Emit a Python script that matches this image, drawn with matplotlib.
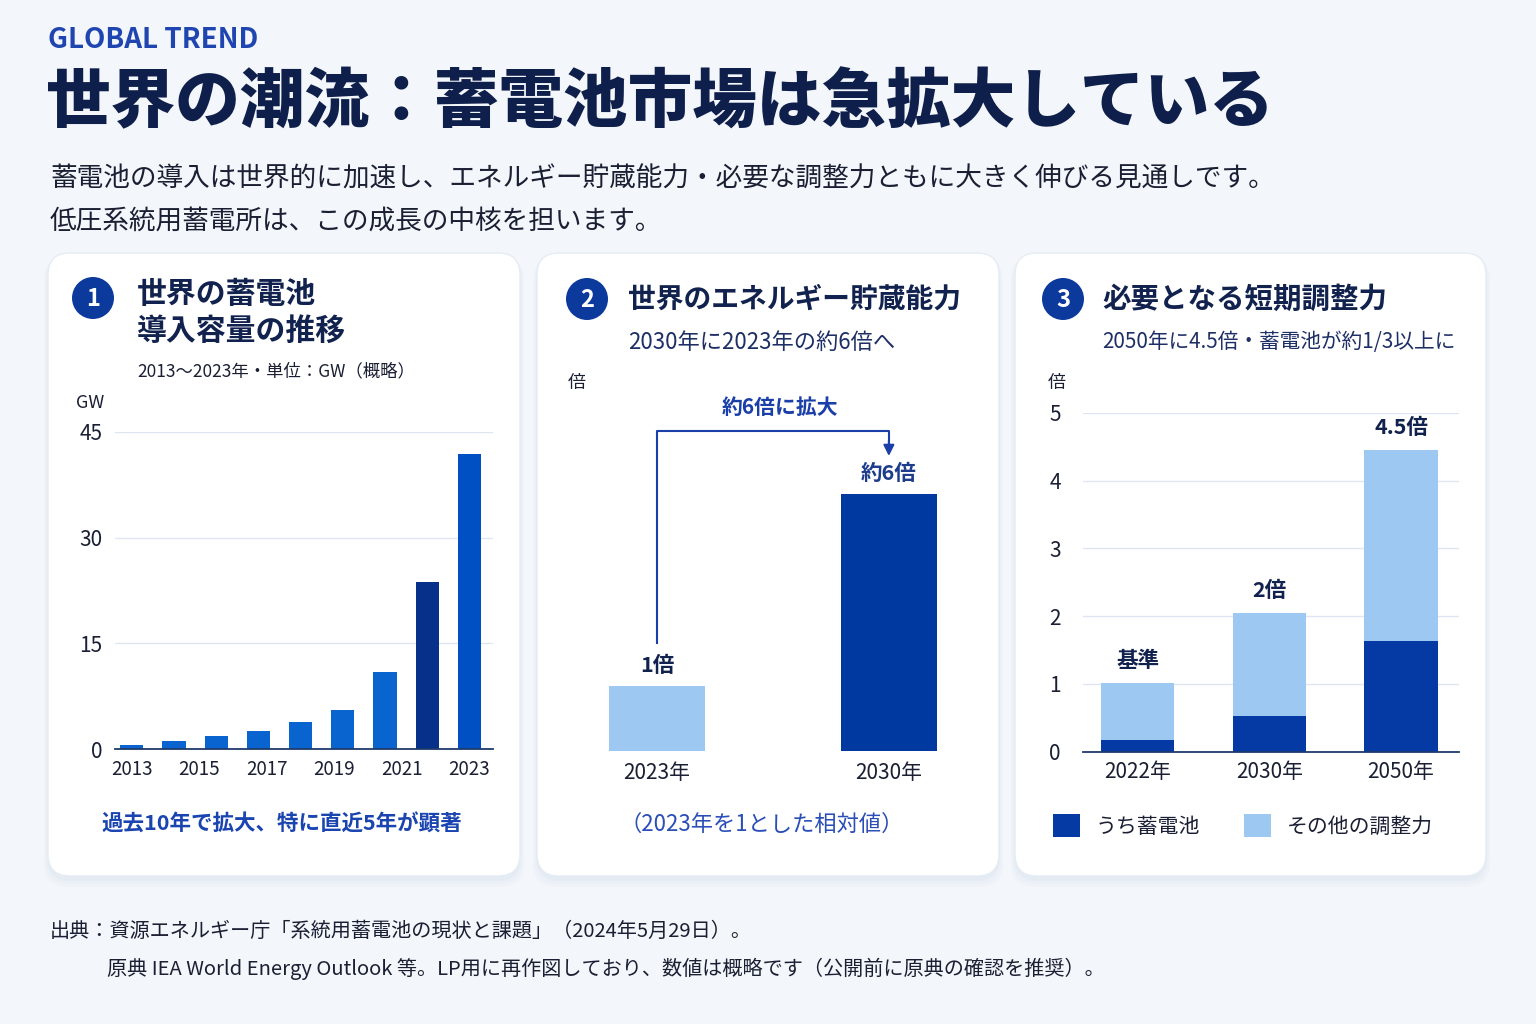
import matplotlib
matplotlib.use('Agg')
import matplotlib.pyplot as plt
import numpy as np
from matplotlib.patches import FancyBboxPatch, Circle, Patch

JP = ['Noto Sans CJK JP', 'DejaVu Sans']
plt.rcParams['font.family'] = JP

# ---------------- data ----------------
p1_year_ticks = ['2013', '2015', '2017', '2019', '2021', '2023']
p1_values = [0.5, 1.1, 1.8, 2.6, 3.9, 5.6, 10.9, 23.7, 41.9]
p1_highlight = 7
p1_yticks = [0, 15, 30, 45]

p2_cats = ['2023年', '2030年']
p2_values = [1, 6]
p2_labels = ['1倍', '約6倍']

p3_cats = ['2022年', '2030年', '2050年']
p3_battery = [0.17, 0.53, 1.64]
p3_other = [0.85, 1.52, 2.81]
p3_labels = ['基準', '2倍', '4.5倍']
p3_yticks = [0, 1, 2, 3, 4, 5]
p3_legend = ['うち蓄電池', 'その他の調整力']

# ---------------- style ----------------
W, H = 1536, 1024
BG = '#F3F6FA'
NAVY = '#0F1F4B'
TEXT = '#1A1F33'
BLUE = '#1A44B0'
DARK = '#0539A3'
LIGHT = '#9DC8F1'
GRID = '#DDE6F2'
AXIS = '#1F3A6B'

fig = plt.figure(figsize=(W / 100, H / 100), dpi=100)
fig.patch.set_facecolor(BG)
bg = fig.add_axes([0, 0, 1, 1])
bg.set_xlim(0, W)
bg.set_ylim(H, 0)
bg.axis('off')
bg.set_zorder(0)


def px_axes(l, t, r, b):
    ax = fig.add_axes([l / W, 1 - b / H, (r - l) / W, (b - t) / H])
    ax.set_zorder(2)
    ax.patch.set_alpha(0)
    return ax


# header
bg.text(48, 40, 'GLOBAL TREND', fontsize=20, fontweight='bold', color='#1F45B0',
        ha='left', va='center')
bg.text(46, 103, '世界の潮流：蓄電池市場は急拡大している', fontsize=46.5, fontweight='heavy',
        color=NAVY, ha='left', va='center')
bg.text(50, 179, '蓄電池の導入は世界的に加速し、エネルギー貯蔵能力・必要な調整力ともに大きく伸びる見通しです。',
        fontsize=19.2, color=TEXT, ha='left', va='center')
bg.text(50, 221, '低圧系統用蓄電所は、この成長の中核を担います。',
        fontsize=19.2, color=TEXT, ha='left', va='center')

# cards
cards = [(48, 520), (537, 999), (1015, 1486)]
for x0, x1 in cards:
    for k, a in [(8, 0.10), (5, 0.15), (2, 0.25)]:
        bg.add_patch(FancyBboxPatch((x0 - k / 2, 253 + 3), x1 - x0 + k, 623 + k,
                                    boxstyle='round,pad=0,rounding_size=24',
                                    fc='#D5E0EE', ec='none', alpha=a, zorder=1))
    bg.add_patch(FancyBboxPatch((x0, 253), x1 - x0, 623,
                                boxstyle='round,pad=0,rounding_size=22',
                                fc='white', ec='#E6ECF4', lw=1, zorder=2))

# badges
for (cx, cy), n in zip([(93, 298), (587, 299), (1063, 299)], ['1', '2', '3']):
    bg.add_patch(Circle((cx, cy), 21, fc='#0B3A9C', ec='none', zorder=3))
    bg.text(cx, cy + 1, n, fontsize=17, fontweight='bold', color='white',
            ha='center', va='center', zorder=4)

# panel titles
bg.text(137, 294, '世界の蓄電池', fontsize=21.5, fontweight='bold', color='#12224F', va='center', zorder=4)
bg.text(137, 331, '導入容量の推移', fontsize=21.5, fontweight='bold', color='#12224F', va='center', zorder=4)
bg.text(137, 371, '2013〜2023年・単位：GW（概略）', fontsize=12.5, color=TEXT, va='center', zorder=4)

bg.text(628, 300, '世界のエネルギー貯蔵能力', fontsize=20, fontweight='bold', color='#12224F', va='center', zorder=4)
bg.text(628, 342, '2030年に2023年の約6倍へ', fontsize=16, color='#1E2F66', va='center', zorder=4)

bg.text(1102, 300, '必要となる短期調整力', fontsize=20.5, fontweight='bold', color='#12224F', va='center', zorder=4)
bg.text(1102, 342, '2050年に4.5倍・蓄電池が約1/3以上に', fontsize=14.9, color='#1E2F66', va='center', zorder=4)

# ---------------- panel 1 ----------------
ax1 = px_axes(115, 432, 493, 749)
x1 = np.arange(len(p1_values))
cols1 = ['#0A64CF'] * len(p1_values)
cols1[p1_highlight] = '#06308A'
cols1[-1] = '#0050C4'
ax1.bar(x1, p1_values, width=0.55, color=cols1, zorder=3)
ax1.set_xlim(-0.4, len(p1_values) - 1 + 0.56)
ax1.set_ylim(0, 45)
ax1.set_yticks(p1_yticks)
ax1.set_yticklabels([str(v) for v in p1_yticks])
ax1.set_xticks(np.linspace(0, len(p1_values) - 1, len(p1_year_ticks)))
ax1.set_xticklabels(p1_year_ticks)
ax1.yaxis.grid(True, color=GRID, lw=1, zorder=0)
for s in ['top', 'right', 'left']:
    ax1.spines[s].set_visible(False)
ax1.spines['bottom'].set_color(AXIS)
ax1.spines['bottom'].set_linewidth(1.3)
ax1.spines['bottom'].set_zorder(4)
ax1.tick_params(axis='y', length=0, pad=9, labelsize=15, labelcolor=TEXT)
ax1.tick_params(axis='x', length=0, pad=7, labelsize=13.5, labelcolor=TEXT)
bg.text(90, 403, 'GW', fontsize=13, color=TEXT, ha='center', va='center', zorder=4)
bg.text(282, 824, '過去10年で拡大、特に直近5年が顕著', fontsize=15.5, fontweight='bold',
        color=BLUE, ha='center', va='center', zorder=4)

# ---------------- panel 2 ----------------
P = 0.767
ax2 = px_axes(576, 431, 970, 751)
ax2.set_yscale('function', functions=(lambda v: np.sign(v) * np.abs(v) ** P,
                                      lambda v: np.sign(v) * np.abs(v) ** (1 / P)))
x2 = np.arange(len(p2_values))
ax2.bar(x2, p2_values, width=0.414, color=[LIGHT, '#0039A0'], zorder=3)
ax2.set_xlim(-0.35, 1.35)
ax2.set_ylim(0, 8)
ax2.set_yticks([])
ax2.minorticks_off()
ax2.set_xticks(x2)
ax2.set_xticklabels(p2_cats)
for s in ax2.spines.values():
    s.set_visible(False)
ax2.tick_params(axis='x', length=0, pad=8, labelsize=15, labelcolor=TEXT)
for xi, v, lab in zip(x2, p2_values, p2_labels):
    ax2.annotate(lab, (xi, v), xytext=(0, 15), textcoords='offset points',
                 ha='center', va='center', fontsize=15.5, fontweight='bold',
                 color='#12224F' if xi == 0 else '#1E3C8C')
tr = ax2.get_xaxis_transform()
ax2.plot([0, 0, 1, 1], [0.3375, 1.0, 1.0, 0.96], transform=tr, color='#1A3FA8',
         lw=1.5, clip_on=False, zorder=4)
ax2.annotate('', xy=(1, 0.922), xycoords=tr, xytext=(1, 0.97), textcoords=tr,
             arrowprops=dict(arrowstyle='-|>', color='#1A3FA8', lw=1.5, mutation_scale=16,
                             shrinkA=0, shrinkB=0))
bg.text(780, 408, '約6倍に拡大', fontsize=15, fontweight='bold', color='#1A3FA8',
        ha='center', va='center', zorder=4)
bg.text(577, 383, '倍', fontsize=13, color=TEXT, ha='center', va='center', zorder=4)
bg.text(762, 824, '（2023年を1とした相対値）', fontsize=16, color='#2A4DB8',
        ha='center', va='center', zorder=4)

# ---------------- panel 3 ----------------
ax3 = px_axes(1083, 412.7, 1459, 751.7)
x3 = np.arange(len(p3_cats))
tot = [b + o for b, o in zip(p3_battery, p3_other)]
ax3.bar(x3, p3_battery, width=0.555, color=DARK, zorder=3)
ax3.bar(x3, p3_other, bottom=p3_battery, width=0.555, color=LIGHT, zorder=3)
ax3.set_xlim(-0.414, 2.44)
ax3.set_ylim(0, 5)
ax3.set_yticks(p3_yticks)
ax3.set_yticklabels([str(v) for v in p3_yticks])
ax3.set_xticks(x3)
ax3.set_xticklabels(p3_cats)
ax3.yaxis.grid(True, color=GRID, lw=1, zorder=0)
for s in ['top', 'right', 'left']:
    ax3.spines[s].set_visible(False)
ax3.spines['bottom'].set_color(AXIS)
ax3.spines['bottom'].set_linewidth(1.3)
ax3.spines['bottom'].set_zorder(4)
ax3.tick_params(axis='y', length=0, pad=16, labelsize=15, labelcolor=TEXT)
ax3.tick_params(axis='x', length=0, pad=7, labelsize=15, labelcolor=TEXT)
for xi, t, lab in zip(x3, tot, p3_labels):
    ax3.annotate(lab, (xi, t), xytext=(0, 16), textcoords='offset points',
                 ha='center', va='center', fontsize=15.5, fontweight='bold', color='#12224F')
bg.text(1057, 383, '倍', fontsize=13, color=TEXT, ha='center', va='center', zorder=4)
leg = fig.legend(handles=[Patch(fc=DARK, ec='none'), Patch(fc=LIGHT, ec='none')],
                 labels=p3_legend, loc='center left', bbox_to_anchor=(1053 / W, 1 - 826 / H),
                 ncol=2, frameon=False, fontsize=15, handlelength=1.3, handleheight=1.3,
                 handletextpad=0.75, columnspacing=2.1, borderpad=0, borderaxespad=0)
for t in leg.get_texts():
    t.set_color(TEXT)

# footer
bg.text(50, 931, '出典：資源エネルギー庁「系統用蓄電池の現状と課題」（2024年5月29日）。',
        fontsize=14.5, color=TEXT, ha='left', va='center')
bg.text(107, 969, '原典 IEA World Energy Outlook 等。LP用に再作図しており、数値は概略です（公開前に原典の確認を推奨）。',
        fontsize=14.5, color=TEXT, ha='left', va='center')

fig.savefig('out.png', dpi=100, facecolor=BG)
